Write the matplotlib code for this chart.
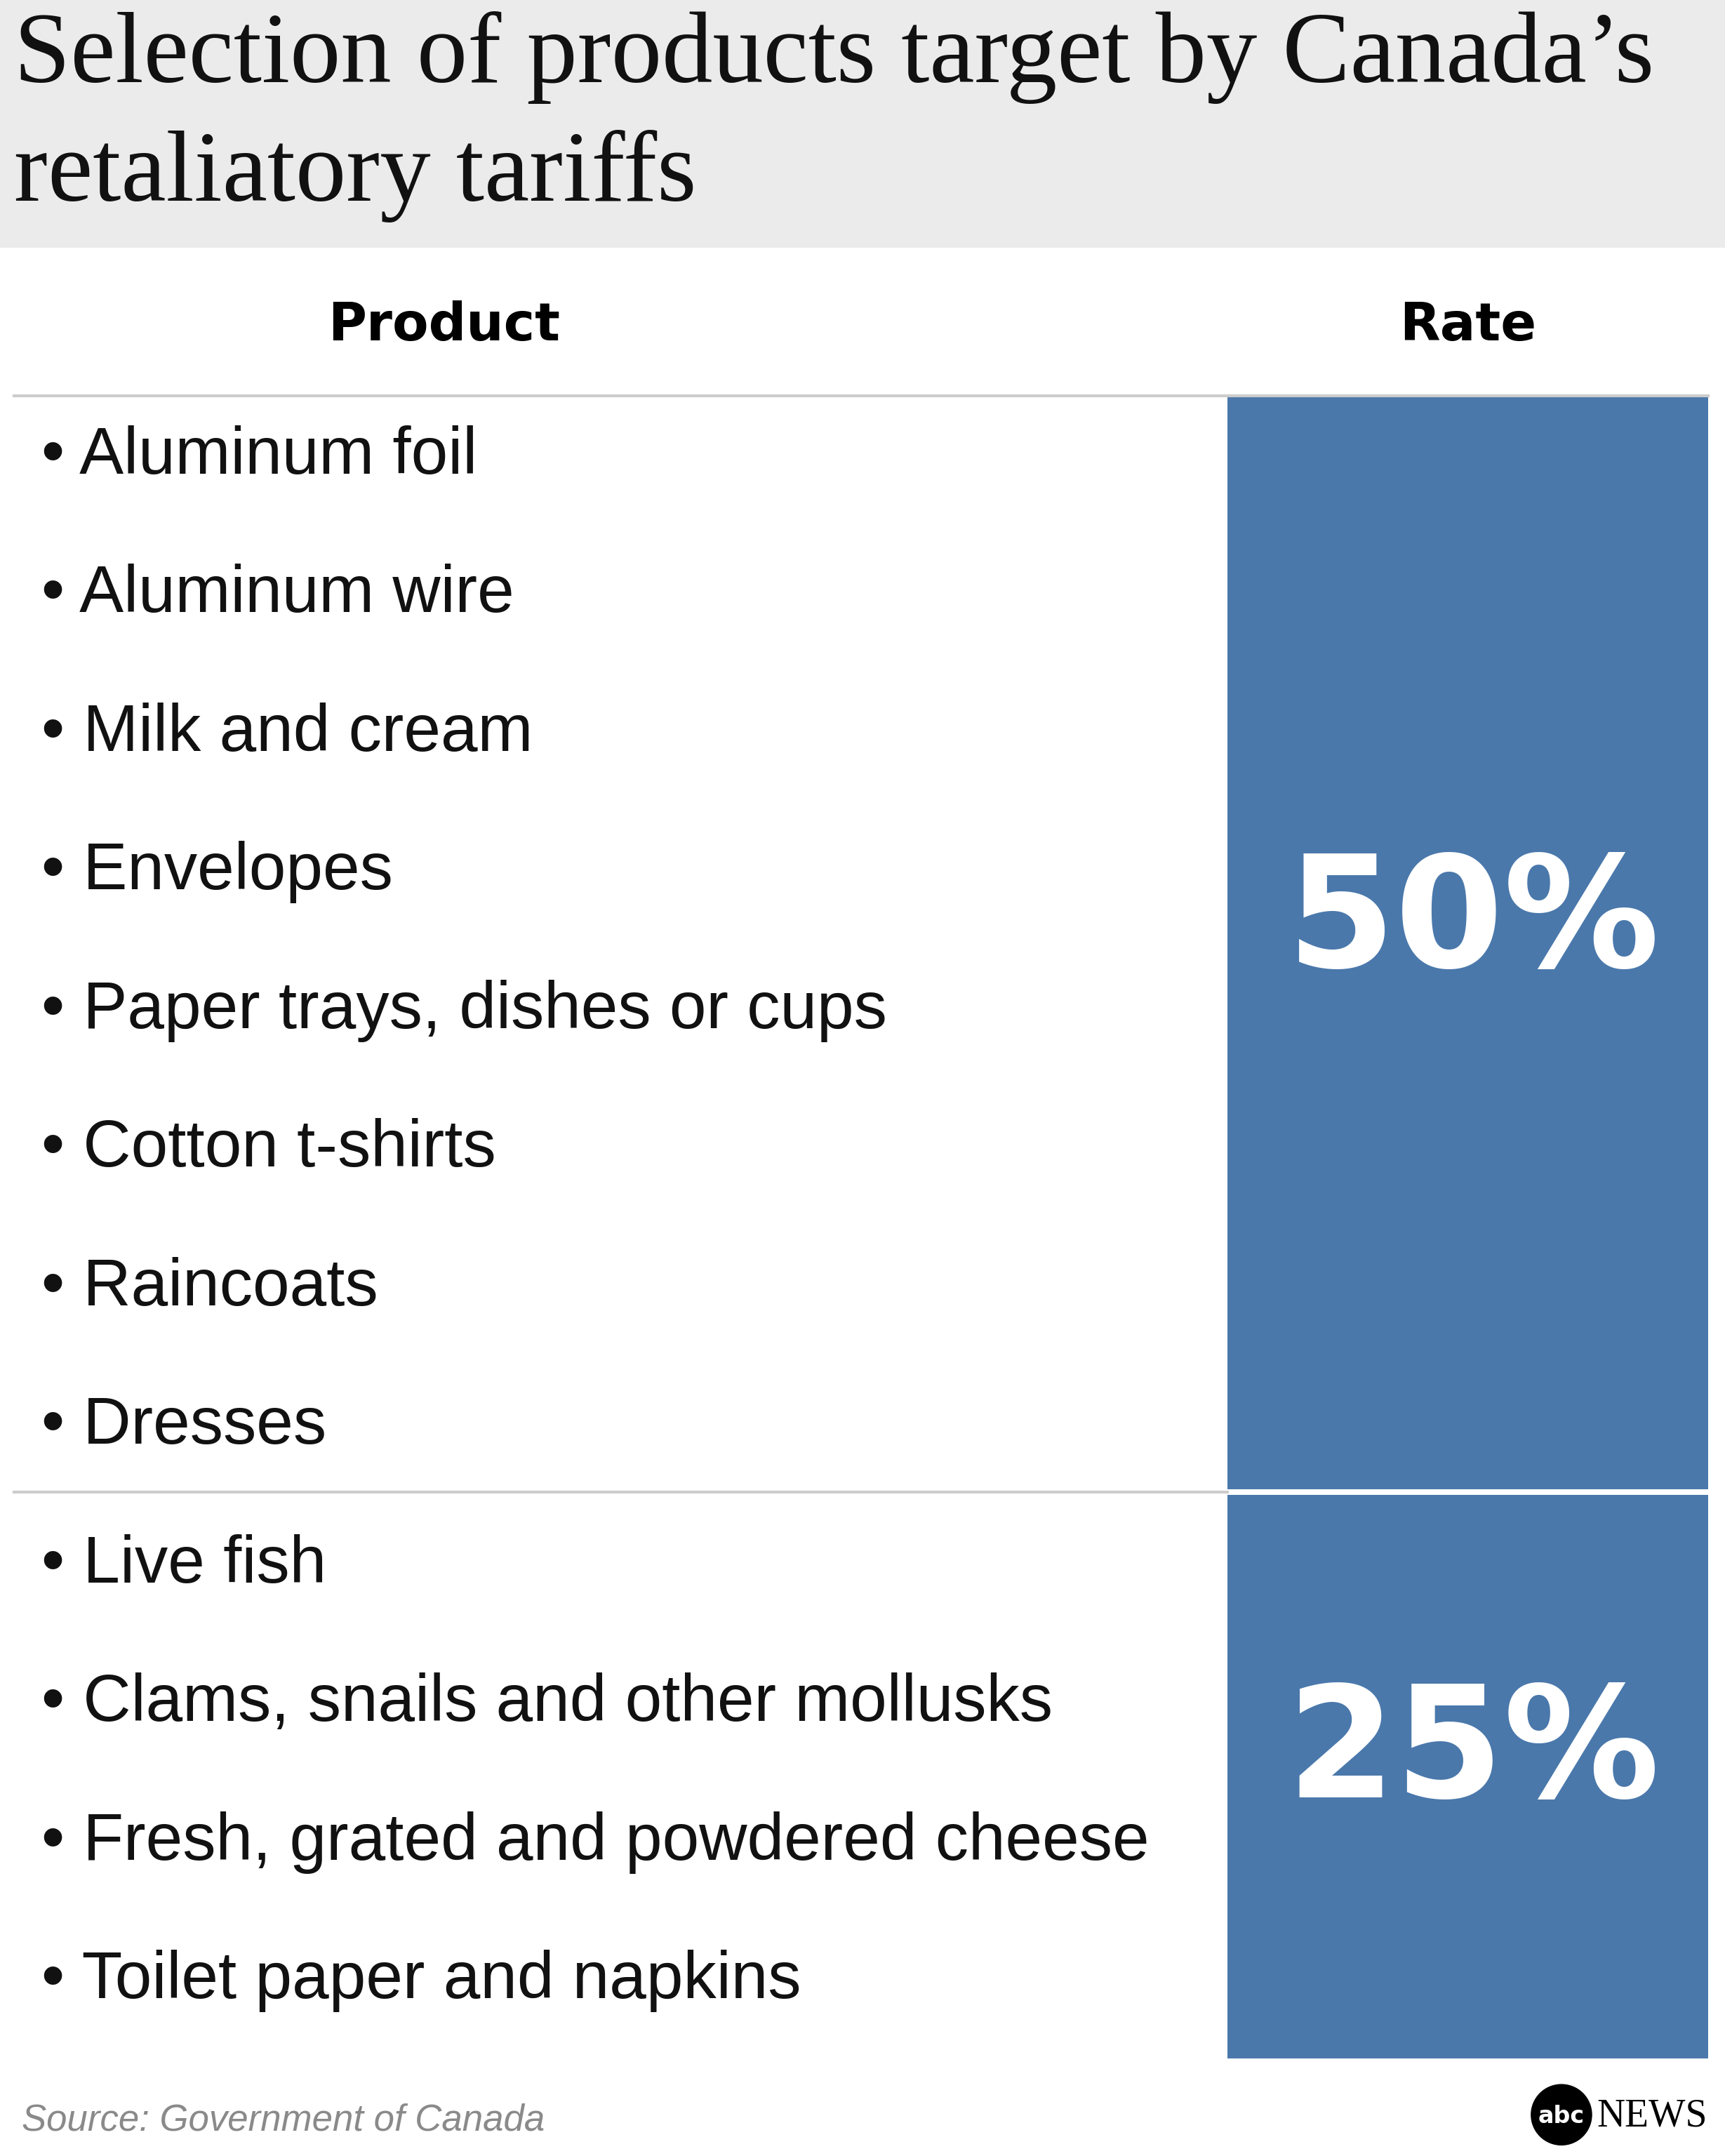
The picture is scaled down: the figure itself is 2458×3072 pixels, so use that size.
import matplotlib
matplotlib.use("Agg")
import matplotlib.pyplot as plt
from matplotlib.patches import Rectangle

title_lines = ["Selection of products target by Canada’s", "retaliatory tariffs"]
headers = ["Product", "Rate"]
products_50 = ["Aluminum foil", "Aluminum wire", "Milk and cream", "Envelopes",
               "Paper trays, dishes or cups", "Cotton t-shirts", "Raincoats", "Dresses"]
products_25 = ["Live fish", "Clams, snails and other mollusks",
               "Fresh, grated and powdered cheese", "Toilet paper and napkins"]
rates = ["50%", "25%"]
source = "Source: Government of Canada"

BLUE = "#4a78ab"
W, H = 1255, 1568  # layout units

fig = plt.figure(figsize=(24.58, 30.72), dpi=100)
ax = fig.add_axes([0, 0, 1, 1])
ax.set_xlim(0, W); ax.set_ylim(H, 0); ax.axis("off")

ax.add_patch(Rectangle((0, 0), W, 180, color="#ebebeb", lw=0))
for y, line in zip([42, 128], title_lines):
    ax.text(10, y, line, fontsize=104, family="Liberation Serif", va="center",
            ha="left", color="#111111")

ax.text(323, 237, headers[0], fontsize=54, weight="bold", ha="center", va="center")
ax.text(1068, 237, headers[1], fontsize=54, weight="bold", ha="center", va="center")
ax.plot([10, 1243], [288, 288], color="#cccccc", lw=3)

row_h = 100.8
y0 = 332
all_items = products_50 + products_25
for i, p in enumerate(all_items):
    ax.text(30, y0 + i * row_h, "• " + p, fontsize=68, ha="left", va="center",
            color="#111111", family="Liberation Sans")

split = 1085
ax.add_patch(Rectangle((893, 288), 350, split - 2 - 288, color=BLUE, lw=0))
ax.add_patch(Rectangle((893, split + 2), 350, 1497 - split - 2, color=BLUE, lw=0))
ax.plot([10, 893], [split, split], color="#cccccc", lw=3)
ax.text(1072, 672, rates[0], fontsize=160, weight="bold", color="white",
        ha="center", va="center")
ax.text(1072, 1276, rates[1], fontsize=160, weight="bold", color="white",
        ha="center", va="center")

ax.text(16, 1542, source, fontsize=38, style="italic", color="#8a8a8a",
        ha="left", va="center", family="Liberation Sans")
ax.add_patch(plt.Circle((1136, 1538), 22, color="black"))
ax.text(1136, 1539, "abc", fontsize=24, weight="bold", color="white",
        ha="center", va="center")
ax.text(1162, 1539, "NEWS", fontsize=40, family="Liberation Serif",
        ha="left", va="center", color="black")

fig.savefig("out.png", dpi=100)
